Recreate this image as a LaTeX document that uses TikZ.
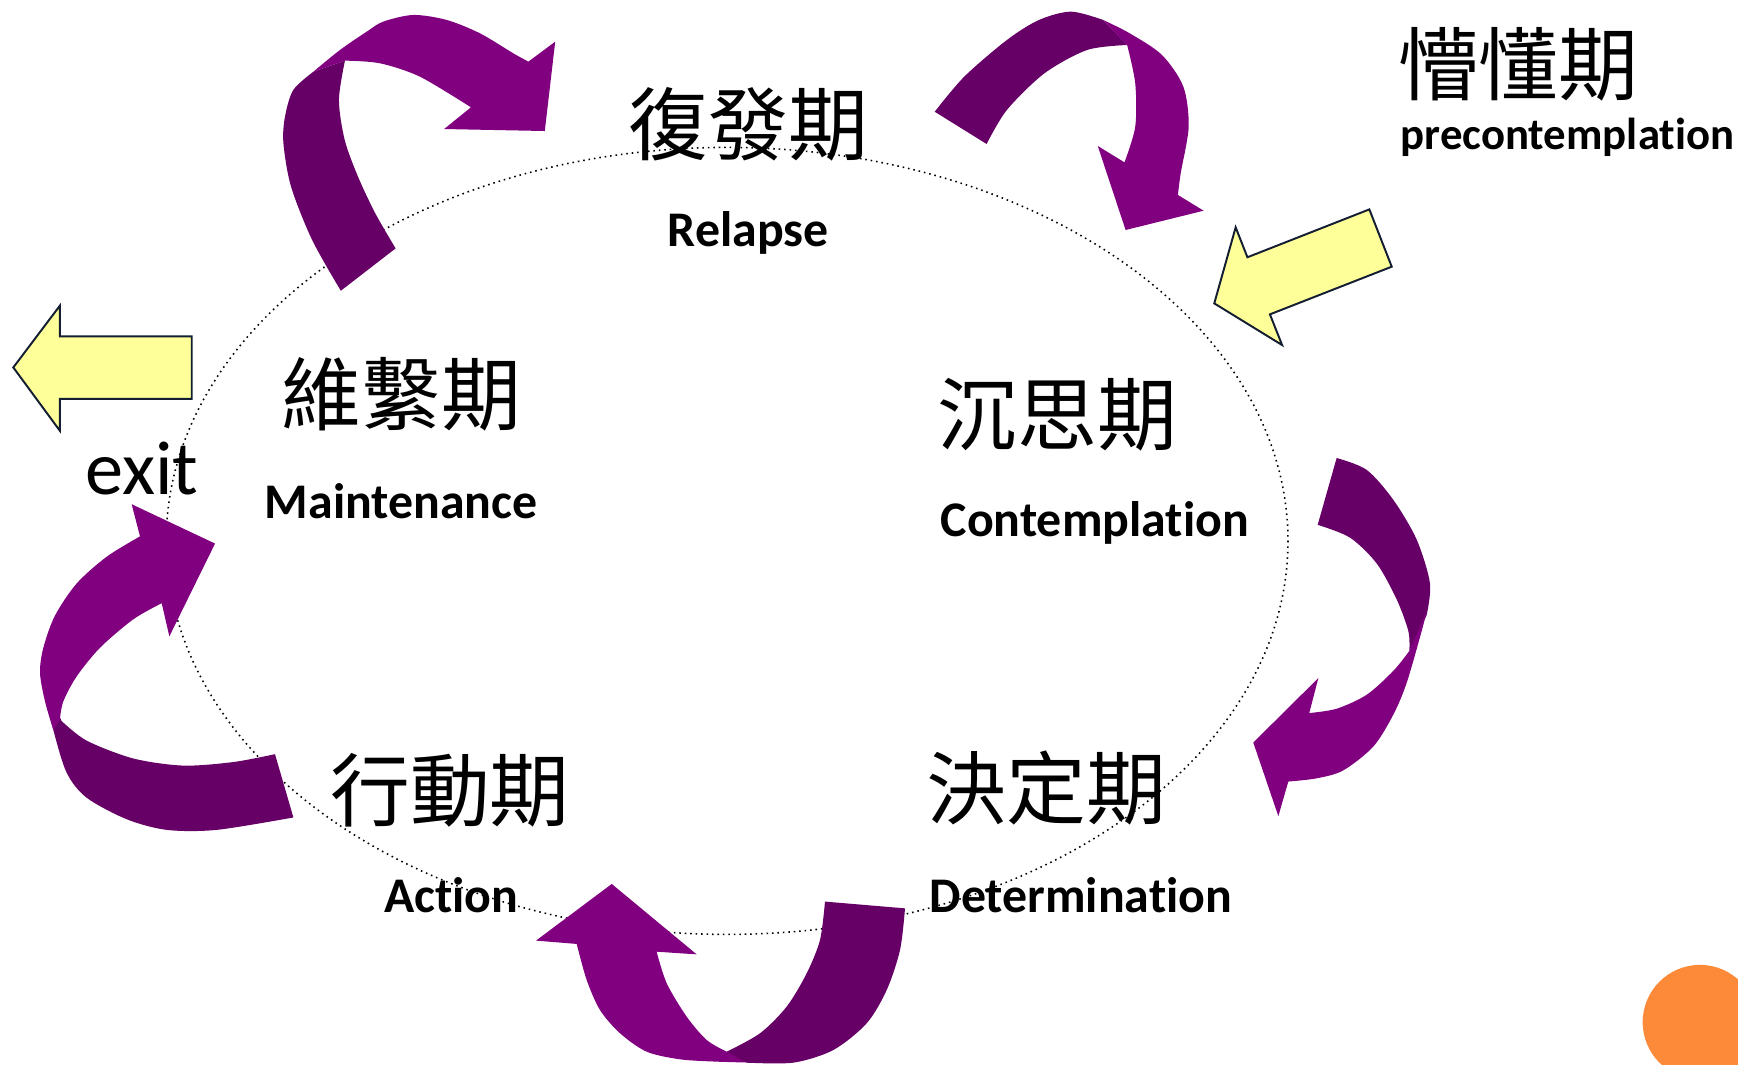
\documentclass[tikz,border=0pt]{standalone}
\usepackage{fontspec}
\usepackage{tikz}
\setmainfont{Carlito}[Ligatures=NoCommon,RawFeature=-calt]
\newfontfamily\cjkfont{Noto Sans CJK TC}
\definecolor{plum}{RGB}{128,0,128}
\definecolor{darkplum}{RGB}{102,0,102}
\definecolor{paleyellow}{RGB}{255,255,153}
\definecolor{navyline}{RGB}{20,30,50}
\definecolor{orangedot}{RGB}{253,138,57}

\begin{document}
\begin{tikzpicture}[x=0.1mm,y=-0.1mm,
		cjk/.style={font=\cjkfont\fontsize{20.5}{24}\selectfont,inner sep=0pt},
		eng/.style={font=\bfseries\fontsize{12.8}{15}\selectfont,inner sep=0pt,anchor=base},
		exittxt/.style={font=\fontsize{19.6}{23}\selectfont,inner sep=0pt,anchor=base},
		plumfront/.style={fill=plum},
		plumback/.style={fill=darkplum},
		yarrow/.style={fill=paleyellow,draw=navyline,line width=0.5pt,line join=miter}]
		\useasboundingbox (0,0) rectangle (1568,960);

		\draw[densely dotted,line width=0.4pt] (656,488) ellipse [x radius=506,y radius=355];

		\node[cjk]						(relapse)	at (675,112)	{復發期};
		\node[eng]						(relapsetxt)	at (675,222)	{Relapse};
		\node[cjk]						(precon)	at (1370,58)	{懵懂期};
		\node[eng,anchor=base west,font=\bfseries\fontsize{11.5}{13}\selectfont]
										(precontxt)	at (1263,135)	{precontemplation};
		\node[cjk]						(maint)		at (362,356)	{維繫期};
		\node[eng]						(mainttxt)	at (362,468)	{Maintenance};
		\node[cjk]						(contem)	at (954,374)	{沉思期};
		\node[eng,anchor=base west]		(contemtxt)	at (848,484)	{Contemplation};
		\node[cjk]						(determ)	at (944,711)	{決定期};
		\node[eng,anchor=base west]		(determtxt)	at (838,823)	{Determination};
		\node[cjk]						(action)	at (406,713)	{行動期};
		\node[eng]						(actiontxt)	at (407,823)	{Action};
		\node[exittxt]					(exit)		at (128,446)	{exit};

		% relapse -> maintenance side, top left
		\fill[plumback] (307.5,262.3) -- plot[smooth] coordinates {(307.5,262.3) (281.6,216.5) (262.6,168.4) (255.7,129.3) (257.1,105.3) (264.6,81.2) (282.7,64.7)}
			-- (311.2,54.7) -- plot[smooth] coordinates {(311.2,54.7) (305.8,90.2) (311,126.3) (323,159.4) (338.6,192.5) (356.9,224.1)} -- cycle;
		\fill[plumfront] (282.7,64.7) -- plot[smooth] coordinates {(282.7,64.7) (306.7,45.1) (330.8,28.6) (345.8,19.5) (372.9,13.5) (403.0,18.0) (433.1,30.1) (463.1,48.1) (476.7,55.6)}
			-- (500.9,37.6) -- (491.5,118.2) -- (400.7,116.4) -- (424.9,96.8)
			-- plot[smooth] coordinates {(424.9,96.8) (378.9,69.2) (342.8,57.1) (311.2,54.7)} -- cycle;

		% top right
		\fill[plumback] (843.3,100.8) -- plot[smooth] coordinates {(843.3,100.8) (869.9,69.2) (908.4,36.1) (937.4,18) (966.3,10.5) (995.2,18)}
			-- (1016.9,40.6) -- plot[smooth] coordinates {(1016.9,40.6) (980.8,45.1) (942.2,66.2) (908.4,99.2) (890.1,129.9)} -- cycle;
		\fill[plumfront] (995.2,18) -- plot[smooth] coordinates {(995.2,18) (1019.3,30.1) (1048.3,49.6) (1067.6,78.2) (1072.4,114.3) (1065.2,156.4) (1062.7,175.9)}
			-- (1085.9,190.1) -- (1015.5,207.5) -- (990.4,131.7) -- (1014.5,146.5)
			-- plot[smooth] coordinates {(1014.5,146.5) (1024.2,114.3) (1024.2,75.2) (1016.9,40.6)} -- cycle;

		% right
		\fill[plumback] (1205.9,413.2) -- plot[smooth] coordinates {(1205.9,413.2) (1233.0,423.9) (1257.0,450.9) (1278.1,486.8) (1290.1,526.3) (1287.1,555.0)}
			-- (1271.5,587.3) -- plot[smooth] coordinates {(1271.5,587.3) (1270.6,569.4) (1260.0,540.6) (1242.0,508.3) (1217.9,485.0) (1188.8,473.5)} -- cycle;
		\fill[plumfront] (1287.1,551.4) -- plot[smooth] coordinates {(1287.1,551.4) (1282.6,569.4) (1269.1,616.0) (1257.0,644.8) (1239.0,673.5) (1211.9,695.0) (1187.9,702.2) (1162.3,705.1)}
			-- (1153.3,736.3) -- (1130.7,669.9) -- (1189.4,611.7) -- (1181.2,643.3)
			-- plot[smooth] coordinates {(1181.2,643.3) (1205.9,639.4) (1233.0,626.8) (1257.0,605.3) (1271.5,587.3)} -- cycle;

		% bottom
		\fill[plumfront] (520.3,851.6) -- plot[smooth] coordinates {(520.3,851.6) (529.3,884.1) (541.3,911.2) (559.4,932.2) (583.4,948.8) (613.5,955.7) (646.6,957.8) (679.7,958.7)}
			-- (655.6,948.8) -- plot[smooth] coordinates {(655.6,948.8) (637.6,938.3) (619.5,917.2) (601.5,887.1) (592.4,858.6)}
			-- (628.5,861.0) -- (551.9,797.5) -- (483.6,848.6) -- cycle;
		\fill[plumback] (744.3,813.4) -- (816.5,819.5) -- plot[smooth] coordinates {(816.5,819.5) (812.0,857.0) (800.0,893.1) (781.9,923.2) (751.8,947.3) (715.8,958.7) (673.7,958.7)}
			-- (655.6,948.8) -- plot[smooth] coordinates {(655.6,948.8) (685.7,932.2) (709.7,908.2) (727.8,878.1) (739.8,848.0) (744.3,813.4)} -- cycle;

		% left
		\fill[plumback] (37.6,613.4) -- plot[smooth] coordinates {(37.6,613.4) (48.1,658.5) (60.2,697.2) (78.2,719.7) (114.3,739.1) (150.4,748.7) (195.5,748.7) (264.7,737.5)}
			-- (248.1,680.4) -- plot[smooth] coordinates {(248.1,680.4) (210.5,687.5) (165.4,690.7) (120.3,684.3) (78.2,668.2) (55.6,650.5)} -- cycle;
		\fill[plumfront] (126.3,483.9) -- plot[smooth] coordinates {(126.3,483.9) (96.2,502.3) (69.2,526.4) (49.6,555.4) (39.1,584.4) (36.1,607.0) (40.6,632.8) (48.1,658.5)}
			-- (54.1,648.9) -- plot[smooth] coordinates {(54.1,648.9) (57.1,632.8) (69.2,610.2) (90.2,584.4) (120.3,558.7) (145.9,544.2)}
			-- (152.8,574.1) -- (194.0,490.4) -- (118.8,454.9) -- cycle;

		% yellow arrows
		\draw[yarrow] (12,331.5) -- (54,275.8) -- (54,303.5) -- (173,303.5) -- (173,359.9) -- (54,359.9) -- (54,388.6) -- cycle;
		\draw[yarrow] (1095.5,273.7) -- (1114.8,205.1) -- (1125.4,232.1) -- (1235.4,188.9) -- (1255.6,240.6) -- (1145.7,283.6) -- (1156.7,311.3) -- cycle;

		\begin{scope}
			\clip (0,0) rectangle (1568,960);
			\fill[orangedot] (1533.7,922.2) circle [radius=51.7];
		\end{scope}
	\end{tikzpicture}
\end{document}
